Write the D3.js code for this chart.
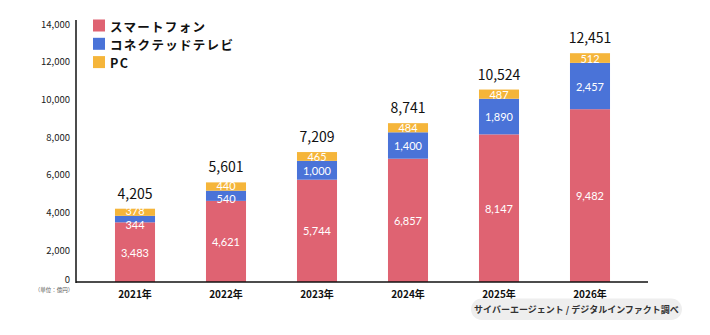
<!DOCTYPE html>
<html lang="ja">
  <head>
    <meta charset="utf-8" />
    <title>スマートフォン・コネクテッドテレビ・PC</title>
    <style>
      body {
        margin: 0;
        background: #fff;
        font-family: 'Noto Sans CJK JP', 'Noto Sans', sans-serif;
      }
      svg {
        display: block;
      }
    </style>
  </head>
  <body>
    <div class="container"></div>
    <script src="https://cdn.jsdelivr.net/npm/d3@7"></script>
    <script>
      const years = ['2021年', '2022年', '2023年', '2024年', '2025年', '2026年'];
      const smartphone = [3483, 4621, 5744, 6857, 8147, 9482];
      const ctv = [344, 540, 1000, 1400, 1890, 2457];
      const pc = [378, 440, 465, 484, 487, 512];
      const totals = [4205, 5601, 7209, 8741, 10524, 12451];
      const seriesNames = ['スマートフォン', 'コネクテッドテレビ', 'PC'];
      const yTicks = [0, 2000, 4000, 6000, 8000, 10000, 12000, 14000];

      const colors = ['#df6372', '#4a73d8', '#f5b53a'];
      const width = 710;
      const height = 335;
      const baseY = 282;
      const axisX = 76;

      const svg = d3
        .select('div.container')
        .append('svg')
        .attr('width', width)
        .attr('height', height);

      const x = d3
        .scaleBand()
        .domain(years)
        .range([89.5, 635.5])
        .paddingInner(0.56)
        .paddingOuter(0.28);
      const y = d3.scaleLinear().domain([0, 14000]).range([288, 24]);

      const rows = years.map((yr, i) => ({
        year: yr,
        smartphone: smartphone[i],
        ctv: ctv[i],
        pc: pc[i],
        total: totals[i],
      }));
      const stack = d3.stack().keys(['smartphone', 'ctv', 'pc'])(rows);

      // bars are cut at the baseline
      svg
        .append('clipPath')
        .attr('id', 'plot')
        .append('rect')
        .attr('x', axisX)
        .attr('y', 0)
        .attr('width', width)
        .attr('height', baseY);

      const layers = svg
        .append('g')
        .attr('clip-path', 'url(#plot)')
        .selectAll('g')
        .data(stack)
        .join('g')
        .attr('fill', (d, i) => colors[i]);

      layers
        .selectAll('rect')
        .data((d) => d)
        .join('rect')
        .attr('x', (d) => x(d.data.year))
        .attr('width', x.bandwidth())
        .attr('y', (d) => y(d[1]))
        .attr('height', (d) => y(d[0]) - y(d[1]));

      // segment label positions, pushed apart when segments are thin
      const labelY = stack.map((layer) =>
        layer.map((d) => (Math.min(y(d[0]), baseY) + y(d[1])) / 2),
      );
      for (let j = 0; j < years.length; j++) {
        const minGap = 13.6;
        const short = minGap - (labelY[1][j] - labelY[2][j]);
        if (short > 0) {
          const up = Math.min(1.5, short / 2);
          labelY[2][j] -= up;
          labelY[1][j] += short - up;
        }
      }

      stack.forEach((layer, k) => {
        svg
          .append('g')
          .selectAll('text')
          .data(layer)
          .join('text')
          .attr('x', (d) => x(d.data.year) + x.bandwidth() / 2)
          .attr('y', (d, j) => labelY[k][j])
          .attr('text-anchor', 'middle')
          .attr('dominant-baseline', 'central')
          .attr('fill', '#fff')
          .style('font-family', "Lato, 'Noto Sans', sans-serif")
          .style('font-size', '11px')
          .text((d) => d3.format(',')(d[1] - d[0]));
      });

      // totals
      svg
        .append('g')
        .selectAll('text')
        .data(rows)
        .join('text')
        .attr('x', (d) => x(d.year) + x.bandwidth() / 2)
        .attr('y', (d) => y(d.total) - 10)
        .attr('text-anchor', 'middle')
        .attr('fill', '#111')
        .style('font-size', '14px')
        .text((d) => d3.format(',')(d.total));

      // y axis
      const yAxis = svg
        .append('g')
        .attr('transform', `translate(${axisX},0)`)
        .call(d3.axisLeft(y).tickValues(yTicks).tickSize(0).tickPadding(6).tickFormat(d3.format(',')));
      yAxis.select('.domain').remove();
      yAxis
        .selectAll('text')
        .style('font-family', "'Noto Sans CJK JP', sans-serif")
        .style('font-size', '9.5px')
        .attr('fill', '#222')
        .attr('dy', (d) => (d === 0 ? '-0.6em' : '0.32em'));

      svg
        .append('line')
        .attr('x1', axisX)
        .attr('x2', axisX)
        .attr('y1', 20)
        .attr('y2', baseY + 1)
        .attr('stroke', '#111')
        .attr('stroke-width', 1.5);

      // x axis
      svg
        .append('line')
        .attr('x1', axisX)
        .attr('x2', 648)
        .attr('y1', baseY)
        .attr('y2', baseY)
        .attr('stroke', '#111')
        .attr('stroke-width', 1.5);

      svg
        .append('g')
        .selectAll('text')
        .data(years)
        .join('text')
        .attr('x', (d) => x(d) + x.bandwidth() / 2)
        .attr('y', 293)
        .attr('text-anchor', 'middle')
        .attr('dominant-baseline', 'central')
        .attr('fill', '#111')
        .style('font-size', '10px')
        .style('font-weight', 700)
        .text((d) => d);

      svg
        .append('text')
        .attr('x', 54)
        .attr('y', 289.5)
        .attr('text-anchor', 'middle')
        .attr('dominant-baseline', 'central')
        .attr('fill', '#555')
        .style('font-size', '5.5px')
        .text('（単位：億円）');

      // legend
      const legend = svg
        .append('g')
        .selectAll('g')
        .data(seriesNames)
        .join('g')
        .attr('transform', (d, i) => `translate(93,${19.5 + i * 18.3})`);
      legend
        .append('rect')
        .attr('width', 12)
        .attr('height', 12)
        .attr('fill', (d, i) => colors[i]);
      legend
        .append('text')
        .attr('x', 17)
        .attr('y', 6.5)
        .attr('dominant-baseline', 'central')
        .attr('fill', '#111')
        .style('font-size', '12.5px')
        .style('font-weight', 700)
        .style('letter-spacing', '1.3px')
        .text((d) => d);

      // source
      svg
        .append('rect')
        .attr('x', 471)
        .attr('y', 298.5)
        .attr('width', 211)
        .attr('height', 21.5)
        .attr('rx', 10.75)
        .attr('fill', '#eeeeee');
      svg
        .append('text')
        .attr('x', 576.5)
        .attr('y', 309.5)
        .attr('text-anchor', 'middle')
        .attr('dominant-baseline', 'central')
        .attr('fill', '#333')
        .style('font-size', '9px')
        .style('font-weight', 700)
        .text('サイバーエージェント / デジタルインファクト調べ');
    </script>
  </body>
</html>
